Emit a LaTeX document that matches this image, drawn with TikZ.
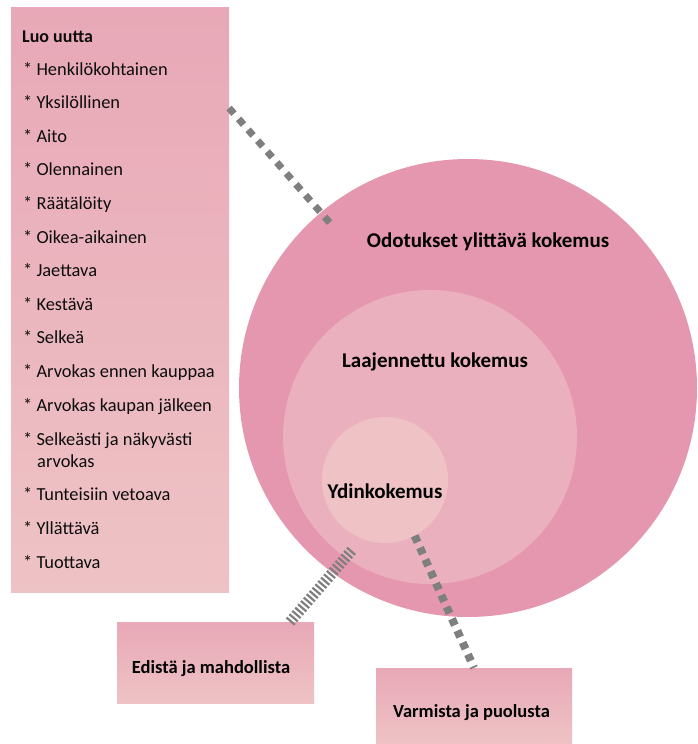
\documentclass[tikz,border=0pt]{standalone}
\usepackage{fontspec}
\setmainfont{Carlito}
\definecolor{ringout}{HTML}{E597AF}
\definecolor{ringmid}{HTML}{EBB0BD}
\definecolor{ringin}{HTML}{EFC3C6}
\definecolor{boxtop}{HTML}{E8A8B7}
\definecolor{boxbot}{HTML}{EEC3C5}
\definecolor{linkgray}{HTML}{7F7F7F}
\tikzset{
  ring/.style={circle,inner sep=0pt,draw=none},
  pinkbox/.style={rectangle,inner sep=0pt,top color=boxtop,bottom color=boxbot,draw=none},
  itemtxt/.style={anchor=base west,inner sep=0pt,text=black!95,font=\fontsize{18.4}{21}\selectfont},
  headtxt/.style={anchor=base,inner sep=0pt,text=black,font=\fontsize{21}{24}\selectfont\bfseries},
  boxtxt/.style={headtxt,font=\fontsize{18.5}{21}\selectfont\bfseries},
  link/.style={draw=linkgray,line width=#1},
}

\begin{document}
\begin{tikzpicture}[x=1pt,y=-1pt]
    \useasboundingbox (0,0) rectangle (697,744);

    % rings
    \node[ring,fill=ringout,minimum size=458pt] (outer) at (468,388) {};
    \node[ring,fill=ringmid,minimum size=294pt] (middle) at (430,437) {};
    \node[ring,fill=ringin,minimum size=126pt] (inner) at (385,480) {};

    % boxes
    \node[pinkbox,minimum width=218pt,minimum height=585pt] (list) at (120,299.5) {};
    \node[pinkbox,minimum width=197pt,minimum height=81pt] (edista) at (215.5,662.5) {};
    \node[pinkbox,minimum width=196pt,minimum height=76pt] (varmista) at (474,706) {};

    % dashed links
    \coordinate (listend) at (229,108);
    \coordinate (edistaend) at (290,622);
    \draw[link=7pt,dash pattern=on 7.5pt off 7pt,shorten >=-16pt] (listend) -- (outer.130);
    \draw[link=11pt,dash pattern=on 2.2pt off 2.2pt,shorten >=-10pt] (edistaend) -- (middle.235);
    \draw[link=8pt,dash pattern=on 7pt off 6pt] (inner.-62) -- (varmista.north);

    % ring labels
    \node[headtxt] (outertxt) at (488,247) {Odotukset ylittävä kokemus};
    \node[headtxt] (middletxt) at (435,367) {Laajennettu kokemus};
    \node[headtxt] (innertxt) at (385,498) {Ydinkokemus};

    % box labels
    \node[boxtxt] (edistatxt) at (211,673) {Edistä ja mahdollista};
    \node[boxtxt] (varmistatxt) at (471.5,717) {Varmista ja puolusta};

    % list
    \node[itemtxt,font=\fontsize{18}{21}\selectfont\bfseries] (listhead) at (22,42) {Luo uutta};
    \foreach \y/\txt [count=\i] in {75/Henkilökohtainen, 108.6/Yksilöllinen, 142.2/Aito,
        175.8/Olennainen, 209.4/Räätälöity, 243/Oikea-aikainen, 276.6/Jaettava,
        310.2/Kestävä, 343.8/Selkeä, 377.4/Arvokas ennen kauppaa,
        411/Arvokas kaupan jälkeen, 445/Selkeästi ja näkyvästi,
        500.5/Tunteisiin vetoava, 534.2/Yllättävä, 568/Tuottava}
      \node[itemtxt] (item\i) at (23,\y) {*\ \txt};
    \node[itemtxt] (item12b) at (37,467.5) {arvokas};
\end{tikzpicture}
\end{document}
